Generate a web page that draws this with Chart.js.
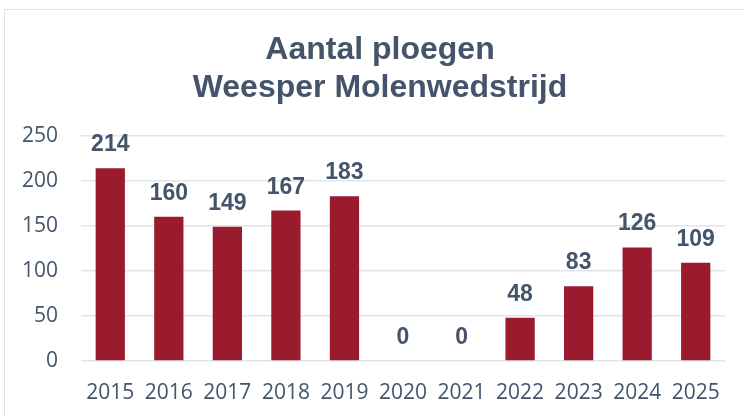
<!DOCTYPE html>
<html>
<head>
<meta charset="utf-8">
<script src="https://cdn.jsdelivr.net/npm/chart.js@4/dist/chart.umd.min.js"></script>
<style>
  html, body { margin: 0; padding: 0; background: #fff; overflow: hidden; }
  #wrap { position: relative; width: 744px; height: 416px; overflow: hidden; }
  #frame { position: absolute; left: 4px; top: 9px; width: 800px; height: 500px; border: 1.5px solid #DDE2E8; box-sizing: border-box; }
  #myChart { position: absolute; left: 0; top: 0; }
</style>
</head>
<body>
<div id="wrap">
  <div id="frame"></div>
  <canvas id="myChart" width="744" height="416"></canvas>
</div>
<script>
var years = ["2015","2016","2017","2018","2019","2020","2021","2022","2023","2024","2025"];
var teams = [214, 160, 149, 167, 183, 0, 0, 48, 83, 126, 109];
var titleLines = ["Aantal ploegen", "Weesper Molenwedstrijd"];

var textColor = '#44546A';
var barColor = '#9B1B2E';

// draws the value above each bar
var valueLabels = {
    id: 'valueLabels',
    afterDatasetsDraw: function(chart) {
        var ctx = chart.ctx;
        var meta = chart.getDatasetMeta(0);
        ctx.save();
        ctx.font = 'bold 23px "Liberation Sans", Arial, sans-serif';
        ctx.fillStyle = textColor;
        ctx.textAlign = 'center';
        ctx.textBaseline = 'alphabetic';
        meta.data.forEach(function(bar, i) {
            ctx.fillText(String(teams[i]), bar.x, bar.y - 17);
        });
        ctx.restore();
    }
};

var ctx = document.getElementById('myChart').getContext('2d');

var myChart = new Chart(ctx, {
    type: 'bar',
    data: {
        labels: years,
        datasets: [{
            label: 'Aantal ploegen',
            data: teams,
            backgroundColor: barColor,
            borderWidth: 0,
            categoryPercentage: 1,
            barPercentage: 0.5
        }]
    },
    options: {
        responsive: false,
        animation: false,
        layout: {
            padding: { left: 16, right: 0, top: 0, bottom: 0 }
        },
        plugins: {
            legend: { display: false },
            tooltip: { enabled: false },
            title: {
                display: true,
                text: titleLines,
                color: textColor,
                font: { family: '"Liberation Sans", Arial, sans-serif', size: 32, weight: 'bold', lineHeight: 1.2 },
                padding: { top: 31, bottom: 28 }
            }
        },
        scales: {
            x: {
                afterFit: function(scale) { scale.height = 55; },
                grid: { display: false, drawTicks: false },
                border: { display: false },
                ticks: {
                    color: textColor,
                    padding: 20,
                    font: { family: '"Open Sans", sans-serif', size: 21, lineHeight: 1.1 }
                }
            },
            y: {
                min: 0,
                max: 250,
                afterFit: function(scale) { scale.width = 65; },
                grid: { color: '#E1E5EB', lineWidth: 1.5, drawTicks: false },
                border: { display: false },
                ticks: {
                    stepSize: 50,
                    color: textColor,
                    padding: 23,
                    font: { family: '"Open Sans", sans-serif', size: 21 }
                }
            },
            // empty right-hand space
            yRight: {
                position: 'right',
                afterFit: function(scale) { scale.width = 19; },
                grid: { display: false, drawTicks: false },
                border: { display: false },
                ticks: { display: false }
            }
        }
    },
    plugins: [valueLabels]
});
</script>
</body>
</html>
